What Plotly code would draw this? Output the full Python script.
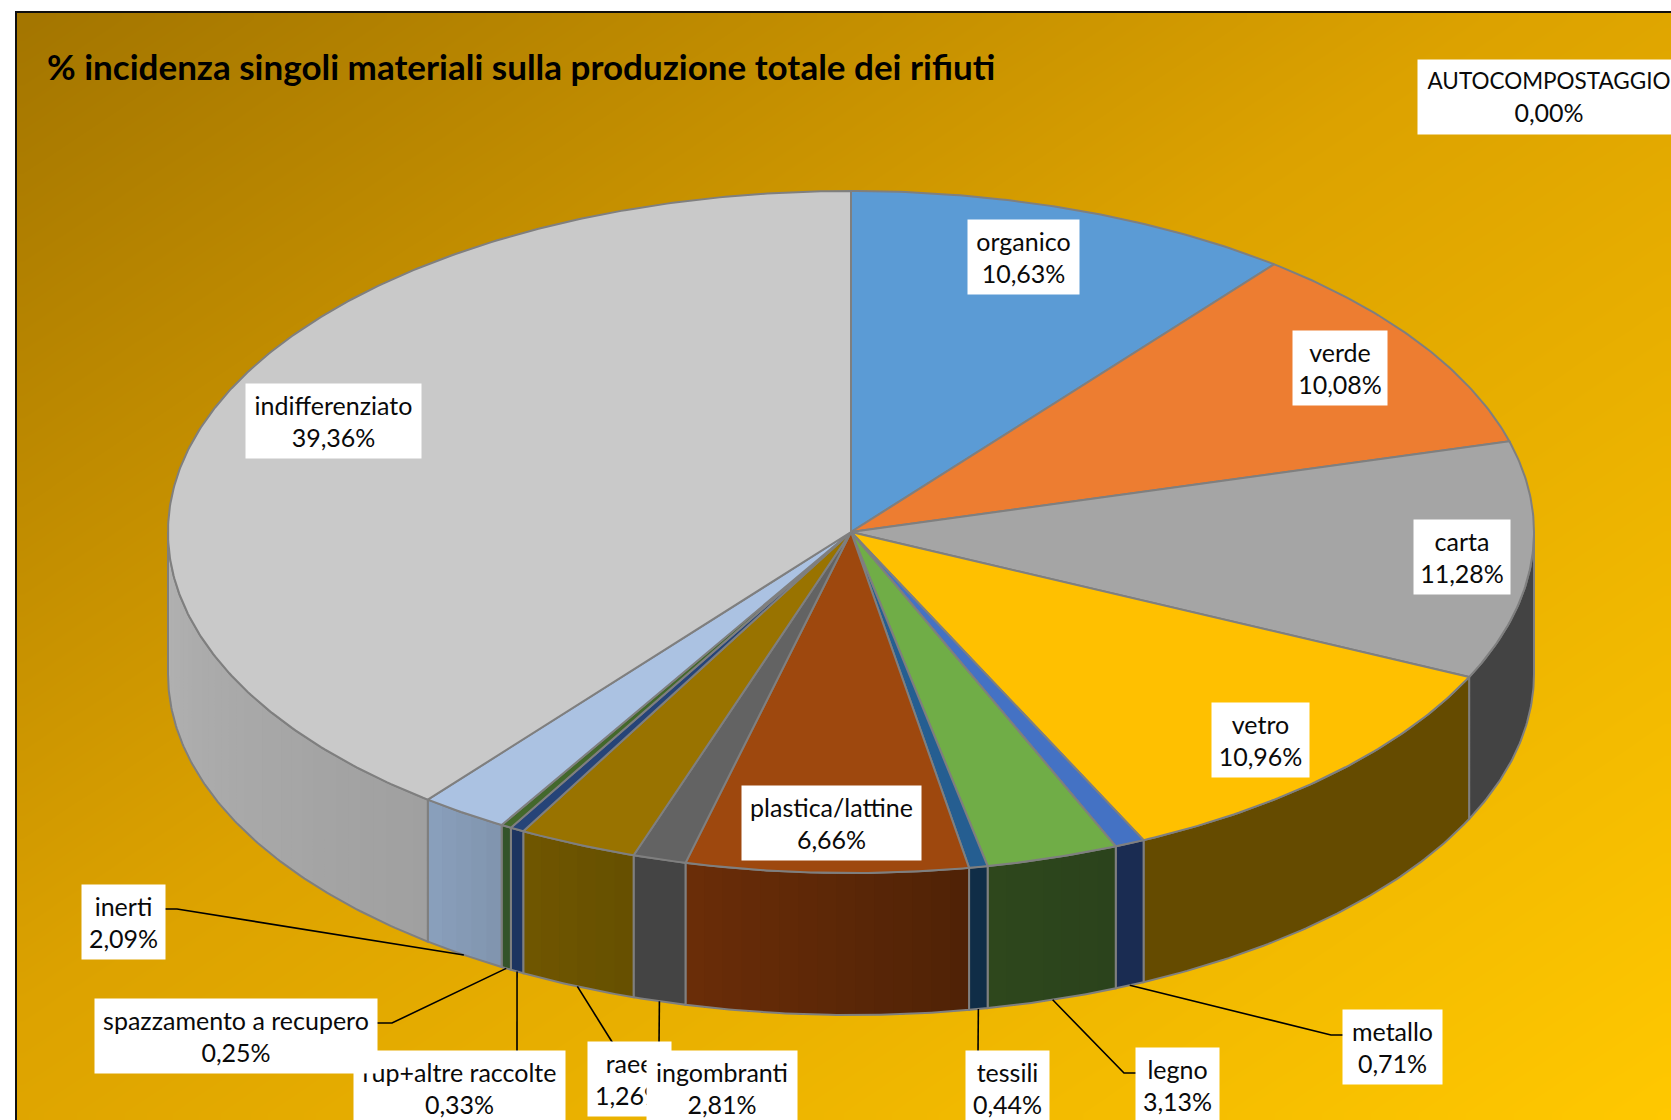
import numpy as np
import plotly.graph_objects as go

# ---- data ----
materials = ["organico", "verde", "carta", "vetro", "metallo", "legno", "tessili",
             "plastica/lattine", "raee", "ingombranti", "rup+altre raccolte",
             "spazzamento a recupero", "inerti", "indifferenziato", "AUTOCOMPOSTAGGIO"]
shares = [10.63, 10.08, 11.28, 10.96, 0.71, 3.13, 0.44, 6.66, 1.26, 2.81, 0.33, 0.25, 2.09, 39.36, 0.00]
TITLE = "% incidenza singoli materiali sulla produzione totale dei rifiuti"

# ---- styles ----
top_colors = ["#5B9BD5", "#ED7D31", "#A5A5A5", "#FFC000", "#4472C4", "#70AD47", "#255E91",
              "#9E480E", "#636363", "#997300", "#264478", "#43682B", "#ABC2E2", "#C9C9C9", "#F1975A"]
side_first = ["#365D80", "#8E4B1D", "#434343", "#654B00", "#1A2C52", "#2B431C", "#102D47",
              "#4F2206", "#444444", "#665000", "#1D3460", "#34532A", "#8094AE", "#A0A0A0", "#8E5A36"]
side_last = ["#365D80", "#8E4B1D", "#434343", "#654B00", "#1A2C52", "#2E471C", "#102D47",
             "#6B2D08", "#444444", "#705600", "#1D3460", "#34532A", "#8AA0BC", "#B2B2B2", "#8E5A36"]
EDGE = "#7F7F7F"
FONT = "Lato"
LABEL_SIZE = 25

W, H = 1671, 1120
FRAME_L, FRAME_T = 16, 12
CX, CY, RX, RY, DEPTH = 851.0, 532.0, 683.0, 341.0, 142.0

# label boxes: name -> (centre x, centre y, width, height); drawing order matters
boxes = [
    ("AUTOCOMPOSTAGGIO", 1549, 97, 262, 74),
    ("organico", 1023, 257, 111, 74),
    ("verde", 1340, 368, 94, 74),
    ("carta", 1462, 557, 96, 74),
    ("vetro", 1260, 740, 97, 74),
    ("plastica/lattine", 831, 823, 179, 74),
    ("indifferenziato", 333, 421, 175, 74),
    ("inerti", 123, 922, 83, 74),
    ("rup+altre raccolte", 459, 1088, 211, 74),
    ("spazzamento a recupero", 236, 1036, 282, 74),
    ("raee", 629, 1079, 83, 74),
    ("ingombranti", 722, 1088, 150, 74),
    ("tessili", 1007, 1088, 83, 74),
    ("legno", 1177, 1085, 83, 74),
    ("metallo", 1392, 1047, 99, 74),
]
# leader line bends / ends beyond the pie rim, per label
leaders = {
    "inerti": [(177, 909), (165, 909)],
    "spazzamento a recupero": [(392, 1023), (377, 1023)],
    "rup+altre raccolte": [(517, 1060)],
    "raee": [(659, 1045)],
    "ingombranti": [(614, 1045)],
    "tessili": [(978, 1055)],
    "legno": [(1124, 1073), (1136, 1073)],
    "metallo": [(1331, 1035), (1343, 1035)],
}


def rim(theta_deg, drop=0.0):
    t = np.radians(theta_deg)
    return CX + RX * np.sin(t), CY - RY * np.cos(t) + drop


def mix(c1, c2, f):
    a = [int(c1[i:i + 2], 16) for i in (1, 3, 5)]
    b = [int(c2[i:i + 2], 16) for i in (1, 3, 5)]
    return "rgb(%d,%d,%d)" % tuple(round(p + (q - p) * f) for p, q in zip(a, b))


fig = go.Figure()

# background: diagonal gradient inside the frame (x, y are cell edges)
gx = np.linspace(FRAME_L, W, 121)
gy = np.linspace(FRAME_T, H, 81)
mx = (gx[:-1] + gx[1:]) / 2
my = (gy[:-1] + gy[1:]) / 2
gz = 0.5 * ((mx[None, :] - FRAME_L) / (W - FRAME_L) + (my[:, None] - FRAME_T) / (H - FRAME_T))
fig.add_trace(go.Heatmap(x=gx, y=gy, z=gz, zmin=0, zmax=1, zsmooth="best", showscale=False,
                         hoverinfo="skip",
                         colorscale=[[0, "#A37500"], [0.45, "#DCA200"], [1, "#FFC800"]]))
# frame lines
fig.add_trace(go.Scatter(x=[FRAME_L, FRAME_L, W], y=[H, FRAME_T, FRAME_T], mode="lines",
                         line=dict(color="#101010", width=2), hoverinfo="skip"))

total = sum(shares)
edges = np.concatenate([[0.0], np.cumsum(shares)]) / total * 360.0

# side wall (front half only, theta in 90..270)
for i, name in enumerate(materials):
    a, b = max(edges[i], 90.0), min(edges[i + 1], 270.0)
    if b <= a:
        continue
    n = max(1, int((b - a) / 1.5)) if side_first[i] != side_last[i] else 1
    cuts = np.linspace(a, b, n + 1)
    # each band runs to the slice end and the next one paints over it, so no seams show
    for k in range(n):
        th = np.linspace(cuts[k], b, max(4, int(b - cuts[k]) * 2))
        x1, y1 = rim(th)
        x2, y2 = rim(th[::-1], DEPTH)
        col = mix(side_first[i], side_last[i], (k + 0.5) / n)
        fig.add_trace(go.Scatter(x=np.r_[x1, x2, x1[0]], y=np.r_[y1, y2, y1[0]], mode="none",
                                 fill="toself", fillcolor=col, name=name, hoverinfo="name"))
    th = np.linspace(a, b, max(4, int(b - a) * 2))
    x1, y1 = rim(th)
    x2, y2 = rim(th[::-1], DEPTH)
    fig.add_trace(go.Scatter(x=np.r_[x1, x2, x1[0]], y=np.r_[y1, y2, y1[0]], mode="lines",
                             line=dict(color=EDGE, width=2), hoverinfo="skip"))

# top face
for i, name in enumerate(materials):
    a, b = edges[i], edges[i + 1]
    if b <= a:
        continue
    th = np.linspace(a, b, max(4, int(b - a) * 2))
    x, y = rim(th)
    fig.add_trace(go.Scatter(x=np.r_[CX, x, CX], y=np.r_[CY, y, CY], mode="lines", fill="toself",
                             fillcolor=top_colors[i], line=dict(color=EDGE, width=2),
                             name=name, hovertemplate="%s<br>%.2f%%<extra></extra>" % (name, shares[i])))

# leader lines start on the lower rim at each slice's middle angle
for name, pts in leaders.items():
    i = materials.index(name)
    sx, sy = rim((edges[i] + edges[i + 1]) / 2.0, DEPTH)
    fig.add_trace(go.Scatter(x=[sx] + [p[0] for p in pts], y=[sy] + [p[1] for p in pts], mode="lines",
                             line=dict(color="#000000", width=1.6), hoverinfo="skip"))

annotations = [dict(x=45, y=66, xref="x", yref="y", xanchor="left", yanchor="middle", showarrow=False,
                    text="<b>%s</b>" % TITLE, font=dict(family=FONT, size=35, color="#000000"))]
for name, bx, by, bw, bh in boxes:
    val = ("%.2f" % shares[materials.index(name)]).replace(".", ",")
    shown = name
    if name == "AUTOCOMPOSTAGGIO":
        shown = '<span style="font-size:22.5px">%s</span>' % name
    annotations.append(dict(x=bx, y=by, xref="x", yref="y", xanchor="center", yanchor="middle",
                            width=bw, height=bh, showarrow=False, bgcolor="#FFFFFF", borderpad=0,
                            align="center", valign="middle", text="%s<br>%s%%" % (shown, val),
                            font=dict(family=FONT, size=LABEL_SIZE, color="#0A0A0A")))

fig.update_layout(
    width=W, height=H, margin=dict(l=0, r=0, t=0, b=0), showlegend=False,
    paper_bgcolor="#FFFFFF", plot_bgcolor="#FFFFFF", annotations=annotations,
    xaxis=dict(range=[0, W], visible=False, fixedrange=True),
    yaxis=dict(range=[H, 0], visible=False, fixedrange=True),
)
fig.write_html("out.html", config={"displayModeBar": False},
               post_script="document.body.style.margin='0';document.body.style.overflow='hidden';")
